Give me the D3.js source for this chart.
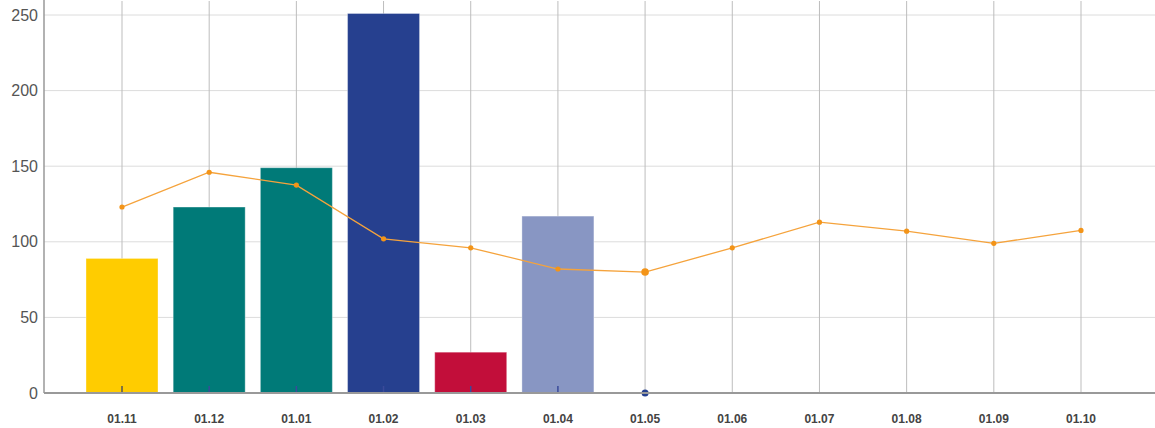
<!DOCTYPE html>
<html>
<head>
<meta charset="utf-8">
<style>
body { margin: 0; background: #fff; }
svg { display: block; font-family: "Liberation Sans", Arial, sans-serif; }
</style>
</head>
<body>
<svg width="1155" height="428"></svg>
<script src="https://d3js.org/d3.v7.min.js"></script>
<script>
var months = ["01.11", "01.12", "01.01", "01.02", "01.03", "01.04", "01.05", "01.06", "01.07", "01.08", "01.09", "01.10"];
var barValues = [89, 123, 149, 251, 27, 117];
var barColors = ["#ffcc00", "#007a78", "#007a78", "#26408f", "#c20e3a", "#8896c3"];
var lineValues = [123, 146, 137.5, 102, 96, 82, 80, 96, 113, 107, 99, 107.5];
var yTicks = [0, 50, 100, 150, 200, 250];

var svg = d3.select("svg");
var W = 1155, H = 428;
var left = 44, bottom = 393;

var x = d3.scalePoint().domain(months).range([122, 1081]);
var y = d3.scaleLinear().domain([0, 250]).range([bottom, 15]);
var barW = 72;

// horizontal grid
svg.selectAll(".hgrid").data(yTicks.slice(1)).enter().append("line")
	.attr("x1", left).attr("x2", W)
	.attr("y1", function(d) { return y(d); }).attr("y2", function(d) { return y(d); })
	.style("stroke", "#dcdcdc").style("stroke-width", 1);

// vertical grid
svg.selectAll(".vgrid").data(months).enter().append("line")
	.attr("x1", function(d) { return x(d); }).attr("x2", function(d) { return x(d); })
	.attr("y1", 1).attr("y2", bottom)
	.style("stroke", "#bdbdbd").style("stroke-width", 1);

// bars
svg.selectAll(".bar").data(barValues).enter().append("rect")
	.attr("x", function(d, i) { return x(months[i]) - barW / 2; })
	.attr("y", function(d) { return y(d); })
	.attr("width", barW)
	.attr("height", function(d) { return bottom - y(d); })
	.style("fill", function(d, i) { return barColors[i]; })
	.style("stroke", "#ffffff").style("stroke-opacity", 0.35);

// small marks at bar bottoms
svg.selectAll(".mark").data(barValues).enter().append("line")
	.attr("x1", function(d, i) { return x(months[i]); })
	.attr("x2", function(d, i) { return x(months[i]); })
	.attr("y1", bottom - 7).attr("y2", bottom)
	.style("stroke", function(d, i) { return i == 0 ? "#555" : "#3a4a9a"; })
	.style("stroke-width", 1.5);

svg.append("circle")
	.attr("cx", x("01.05")).attr("cy", bottom).attr("r", 3.5)
	.style("fill", "#26408f");

// axes lines
svg.append("line").attr("x1", left).attr("x2", W).attr("y1", bottom).attr("y2", bottom)
	.style("stroke", "#999").style("stroke-width", 2);
svg.append("line").attr("x1", left).attr("x2", left).attr("y1", 0).attr("y2", bottom)
	.style("stroke", "#999").style("stroke-width", 1.5);

// line series
var line = d3.line()
	.x(function(d, i) { return x(months[i]); })
	.y(function(d) { return y(d); });

svg.append("path").datum(lineValues)
	.attr("d", line)
	.style("fill", "none").style("stroke", "#f5a33c").style("stroke-width", 1.3);

svg.selectAll(".dot").data(lineValues).enter().append("circle")
	.attr("cx", function(d, i) { return x(months[i]); })
	.attr("cy", function(d) { return y(d); })
	.attr("r", function(d, i) { return i == 6 ? 3.8 : 2.6; })
	.style("fill", "#f39418");

// y labels
svg.selectAll(".ylab").data(yTicks).enter().append("text")
	.attr("x", 38).attr("y", function(d) { return y(d); })
	.attr("dy", "0.35em")
	.attr("text-anchor", "end")
	.style("font-size", "16px").style("fill", "#555")
	.text(function(d) { return d; });

// x labels
svg.selectAll(".xlab").data(months).enter().append("text")
	.attr("x", function(d) { return x(d); }).attr("y", 423)
	.attr("text-anchor", "middle")
	.style("font-size", "12px").style("font-weight", "bold").style("fill", "#444")
	.text(function(d) { return d; });
</script>
</body>
</html>
